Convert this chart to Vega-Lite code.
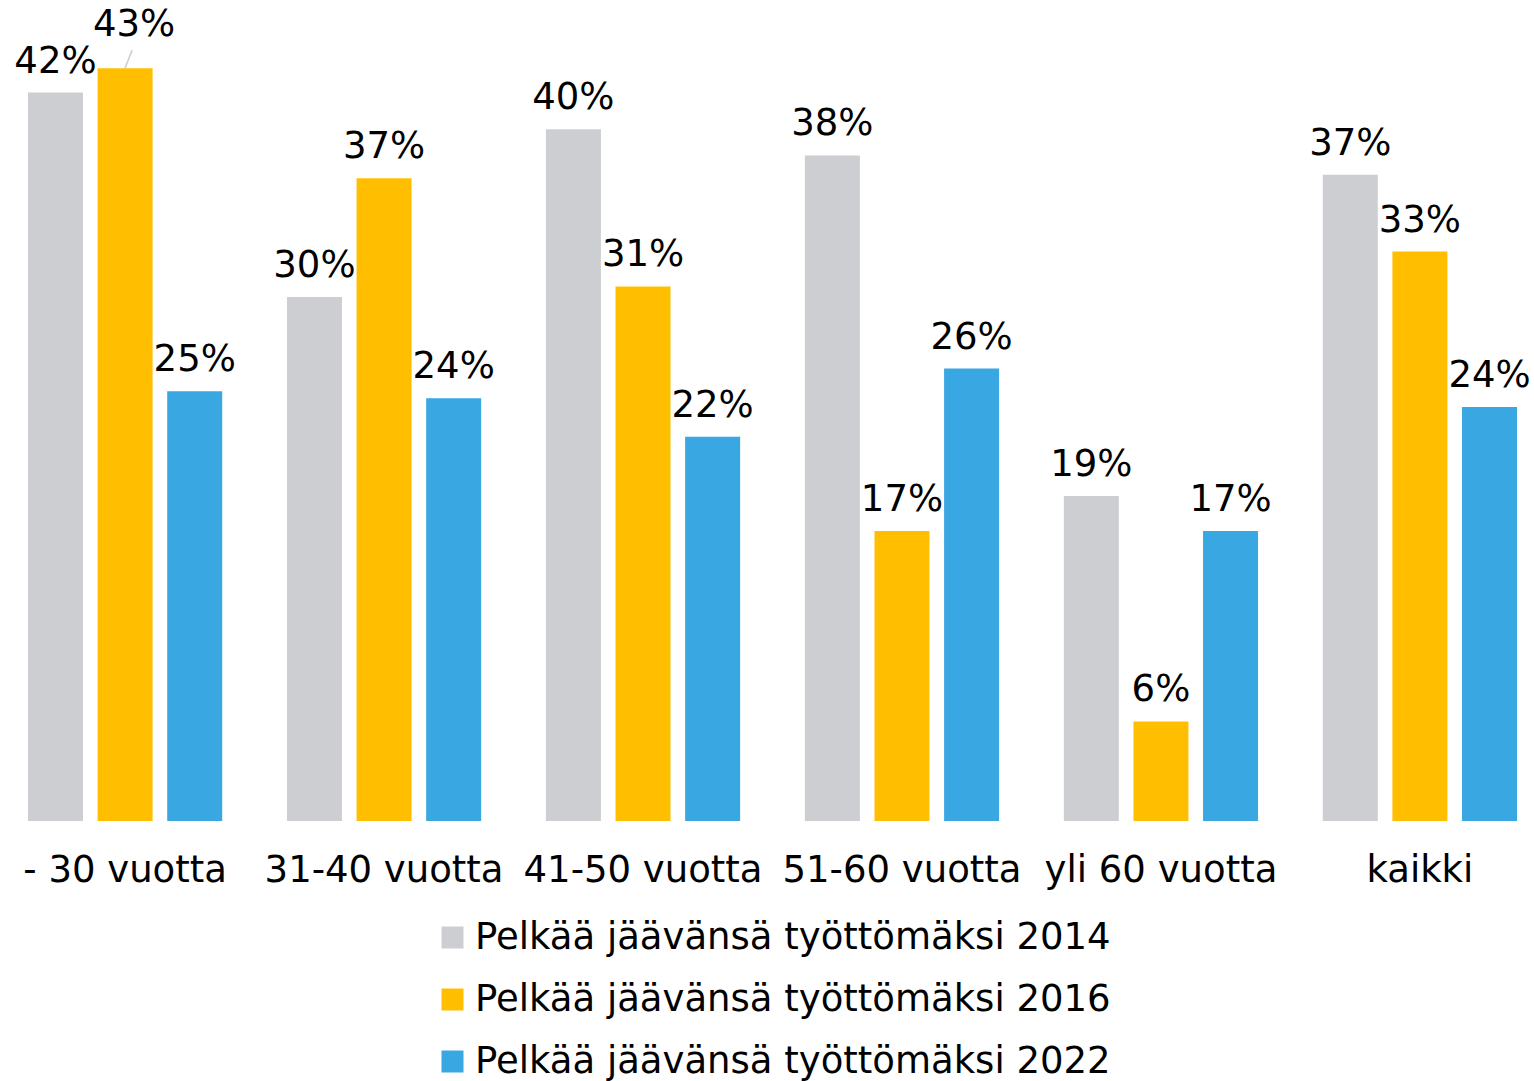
{
  "$schema": "https://vega.github.io/schema/vega-lite/v6.json",
  "width": 1523,
  "height": 821,
  "autosize": {"type": "none"},
  "padding": {"left": 11, "top": 0, "right": 0, "bottom": 260},
  "config": {"view": {"stroke": null}, "font": "DejaVu Sans"},
  "data": {
    "values": [
      {"group": "- 30 vuotta", "series": "Pelkää jäävänsä työttömäksi 2014", "value": 0.417},
      {"group": "- 30 vuotta", "series": "Pelkää jäävänsä työttömäksi 2016", "value": 0.431},
      {"group": "- 30 vuotta", "series": "Pelkää jäävänsä työttömäksi 2022", "value": 0.246},
      {"group": "31-40 vuotta", "series": "Pelkää jäävänsä työttömäksi 2014", "value": 0.300},
      {"group": "31-40 vuotta", "series": "Pelkää jäävänsä työttömäksi 2016", "value": 0.368},
      {"group": "31-40 vuotta", "series": "Pelkää jäävänsä työttömäksi 2022", "value": 0.242},
      {"group": "41-50 vuotta", "series": "Pelkää jäävänsä työttömäksi 2014", "value": 0.396},
      {"group": "41-50 vuotta", "series": "Pelkää jäävänsä työttömäksi 2016", "value": 0.306},
      {"group": "41-50 vuotta", "series": "Pelkää jäävänsä työttömäksi 2022", "value": 0.220},
      {"group": "51-60 vuotta", "series": "Pelkää jäävänsä työttömäksi 2014", "value": 0.381},
      {"group": "51-60 vuotta", "series": "Pelkää jäävänsä työttömäksi 2016", "value": 0.166},
      {"group": "51-60 vuotta", "series": "Pelkää jäävänsä työttömäksi 2022", "value": 0.259},
      {"group": "yli 60 vuotta", "series": "Pelkää jäävänsä työttömäksi 2014", "value": 0.186},
      {"group": "yli 60 vuotta", "series": "Pelkää jäävänsä työttömäksi 2016", "value": 0.057},
      {"group": "yli 60 vuotta", "series": "Pelkää jäävänsä työttömäksi 2022", "value": 0.166},
      {"group": "kaikki", "series": "Pelkää jäävänsä työttömäksi 2014", "value": 0.370},
      {"group": "kaikki", "series": "Pelkää jäävänsä työttömäksi 2016", "value": 0.326},
      {"group": "kaikki", "series": "Pelkää jäävänsä työttömäksi 2022", "value": 0.237}
    ]
  },
  "encoding": {
    "x": {
      "field": "group",
      "type": "nominal",
      "sort": ["- 30 vuotta", "31-40 vuotta", "41-50 vuotta", "51-60 vuotta", "yli 60 vuotta", "kaikki"],
      "scale": {"paddingInner": 0.25, "paddingOuter": 0.0656},
      "axis": {
        "title": null,
        "labelAngle": 0,
        "domain": false,
        "ticks": false,
        "labelFontSize": 37,
        "labelPadding": 31,
        "labelLimit": 0,
        "labelOverlap": false,
        "labelColor": "#000000",
        "labelFont": "DejaVu Sans"
      }
    },
    "xOffset": {
      "field": "series",
      "type": "nominal",
      "sort": ["Pelkää jäävänsä työttömäksi 2014", "Pelkää jäävänsä työttömäksi 2016", "Pelkää jäävänsä työttömäksi 2022"],
      "scale": {"paddingInner": 0.21, "paddingOuter": 0}
    },
    "y": {
      "field": "value",
      "type": "quantitative",
      "scale": {"domain": [0, 0.47], "nice": false},
      "axis": null
    }
  },
  "layer": [
    {
      "mark": {"type": "bar"},
      "encoding": {
        "color": {
          "field": "series",
          "type": "nominal",
          "sort": ["Pelkää jäävänsä työttömäksi 2014", "Pelkää jäävänsä työttömäksi 2016", "Pelkää jäävänsä työttömäksi 2022"],
          "scale": {
            "domain": ["Pelkää jäävänsä työttömäksi 2014", "Pelkää jäävänsä työttömäksi 2016", "Pelkää jäävänsä työttömäksi 2022"],
            "range": ["#CDCED2", "#FFBF00", "#38A7E2"]
          },
          "legend": {
            "title": null,
            "orient": "none",
            "legendX": 423,
            "legendY": 919,
            "direction": "vertical",
            "symbolType": "square",
            "symbolSize": 484,
            "symbolStrokeWidth": 0,
            "labelFontSize": 37,
            "labelColor": "#000000",
            "labelFont": "DejaVu Sans",
            "labelLimit": 1000,
            "rowPadding": 24,
            "labelOffset": 4
          }
        }
      }
    },
    {
      "transform": [{"filter": "!(datum.group == '- 30 vuotta' && datum.series == 'Pelkää jäävänsä työttömäksi 2016')"}],
      "mark": {"type": "text", "baseline": "bottom", "dy": -12, "fontSize": 37, "color": "#000000"},
      "encoding": {"text": {"field": "value", "type": "quantitative", "format": ".0%"}}
    },
    {
      "transform": [{"filter": "datum.group == '- 30 vuotta' && datum.series == 'Pelkää jäävänsä työttömäksi 2016'"}],
      "mark": {"type": "text", "baseline": "bottom", "dy": -24, "dx": 9, "fontSize": 37, "color": "#000000"},
      "encoding": {"text": {"field": "value", "type": "quantitative", "format": ".0%"}}
    },
    {
      "transform": [{"filter": "datum.group == '- 30 vuotta' && datum.series == 'Pelkää jäävänsä työttömäksi 2016'"}],
      "mark": {"type": "rule", "color": "#CDCED2", "strokeWidth": 1.5, "x2Offset": 7, "y2Offset": -18},
      "encoding": {
        "x2": {"field": "group"},
        "y2": {"field": "value"}
      }
    }
  ]
}
